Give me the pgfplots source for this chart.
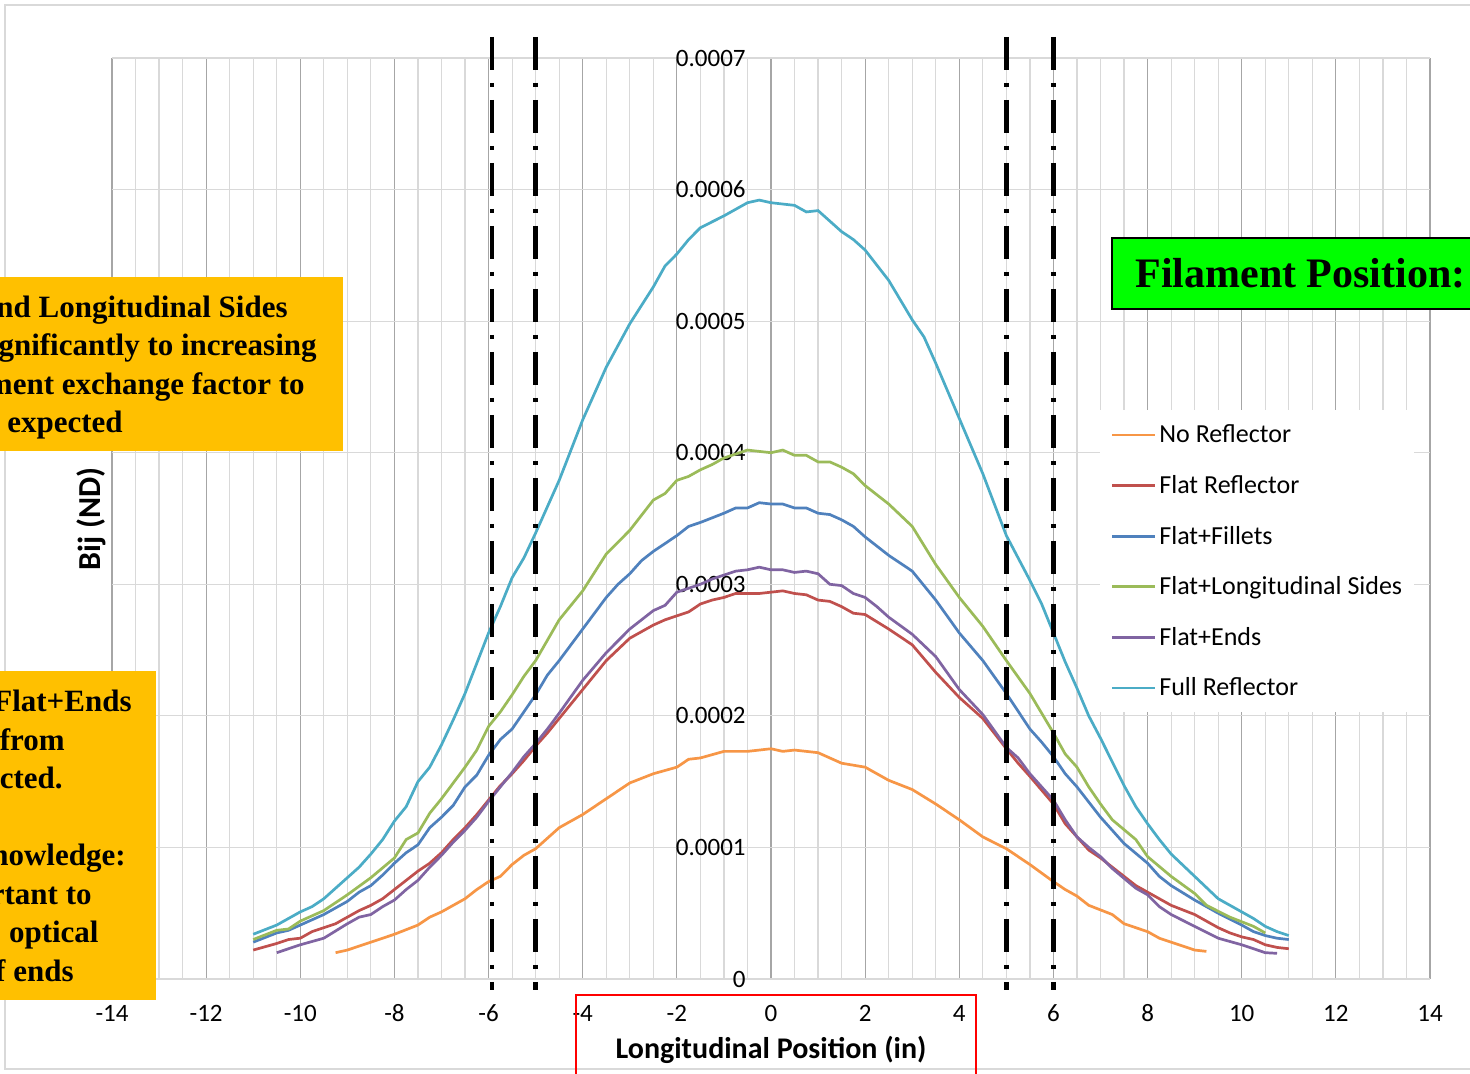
\documentclass[border=0pt]{standalone}
\usepackage{pgfplots}
\pgfplotsset{compat=1.18}
\usepackage{fontspec}
\setmainfont{Carlito}
\newfontfamily\tnr{Liberation Serif}
\definecolor{cNo}{HTML}{F79646}
\definecolor{cFlat}{HTML}{C0504D}
\definecolor{cFil}{HTML}{4F81BD}
\definecolor{cLong}{HTML}{9BBB59}
\definecolor{cEnds}{HTML}{8064A2}
\definecolor{cFull}{HTML}{4BACC6}
\definecolor{gmaj}{HTML}{A6A6A6}
\definecolor{gmin}{HTML}{D9D9D9}
\definecolor{boxorange}{HTML}{FFC000}
\definecolor{boxgreen}{HTML}{00FF00}
\begin{document}
\begin{tikzpicture}
\useasboundingbox (0,0) rectangle (735pt,537pt);
\clip (0,0) rectangle (735pt,537pt);
\fill[white] (0,0) rectangle (735pt,537pt);
\begin{scope}[x=0.5pt,y=-0.5pt,shift={(0pt,537pt)}]
\draw[gmin, line width=1pt] (5,5) rectangle (1480,1069);
\end{scope}
\begin{axis}[
  at={(56pt,47.5pt)}, anchor=south west,
  scale only axis, width=659pt, height=460.5pt,
  xmin=-14, xmax=14, ymin=0, ymax=0.0007,
  clip=false,
  scaled y ticks=false, scaled x ticks=false,
  axis line style={draw=none},
  tick style={draw=none},
  xtick={-14,-12,-10,-8,-6,-4,-2,0,2,4,6,8,10,12,14},
  xticklabels={-14,-12,-10,-8,-6,-4,-2,0,2,4,6,8,10,12,14},
  minor x tick num=3,
  ytick={0,0.0001,0.0002,0.0003,0.0004,0.0005,0.0006,0.0007},
  yticklabels={0,0.0001,0.0002,0.0003,0.0004,0.0005,0.0006,0.0007},
  xmajorgrids, xminorgrids, ymajorgrids,
  major x grid style={gmaj, line width=0.6pt},
  minor x grid style={gmin, line width=0.6pt},
  major y grid style={gmin, line width=0.6pt},
  /pgf/number format/assume math mode=true,
  tick label style={font=\fontsize{12.5}{15}\selectfont, black},
  xticklabel style={anchor=base, yshift=-21.5pt},
  yticklabel style={inner xsep=0pt, xshift=317pt},
  xlabel={Longitudinal Position (in)},
  xlabel style={font=\bfseries\fontsize{15}{18}\selectfont, at={(axis description cs:0.5,-0.0858)}, anchor=base},
  ylabel={Bij (ND)},
  ylabel style={font=\bfseries\fontsize{16}{19}\selectfont, at={(axis description cs:-0.0159,0.4995)}, anchor=center},
  legend cell align=left,
  legend image code/.code={\fill[#1, draw=none] (0pt,-0.7pt) rectangle (21.5pt,0.7pt);},
  legend style={at={(0.7496,0.6178)}, anchor=north west, draw=none, fill=white,
    inner xsep=6pt, inner ysep=6.25pt, row sep=13.3pt,
    font=\fontsize{13}{15.6}\selectfont,
    nodes={inner xsep=0pt, inner ysep=0pt, text height=10pt, text depth=2pt},
    /tikz/every odd column/.append style={column sep=2pt}},
]
\addplot[cNo, line width=1.35pt] coordinates {
(-9.25,0.20e-4) (-9,0.22e-4) (-8.5,0.28e-4) (-8,0.34e-4) (-7.5,0.41e-4) (-7.25,0.47e-4) (-7,0.51e-4) (-6.75,0.56e-4) (-6.5,0.61e-4) (-6.25,0.68e-4) (-6,0.74e-4) (-5.75,0.78e-4) (-5.5,0.87e-4) (-5.25,0.94e-4) (-5,0.99e-4) (-4.75,1.07e-4) (-4.5,1.15e-4) (-4,1.25e-4) (-3.5,1.37e-4) (-3,1.49e-4) (-2.5,1.56e-4) (-2,1.61e-4) (-1.75,1.67e-4) (-1.5,1.68e-4) (-1,1.73e-4) (-0.5,1.73e-4) (0,1.75e-4) (0.25,1.73e-4) (0.5,1.74e-4) (1,1.72e-4) (1.5,1.64e-4) (2,1.61e-4) (2.5,1.51e-4) (3,1.44e-4) (3.5,1.33e-4) (4,1.21e-4) (4.5,1.08e-4) (5,0.99e-4) (5.5,0.87e-4) (6,0.74e-4) (6.25,0.68e-4) (6.5,0.63e-4) (6.75,0.56e-4) (7.25,0.49e-4) (7.5,0.42e-4) (8,0.36e-4) (8.25,0.31e-4) (8.5,0.28e-4) (9,0.22e-4) (9.25,0.21e-4)};
\addlegendentry{No Reflector}
\addplot[cFlat, line width=1.35pt] coordinates {
(-11,0.22e-4) (-10.5,0.27e-4) (-10.25,0.30e-4) (-10,0.31e-4) (-9.75,0.36e-4) (-9.5,0.39e-4) (-9.25,0.42e-4) (-9,0.47e-4) (-8.75,0.52e-4) (-8.5,0.56e-4) (-8.25,0.61e-4) (-8,0.68e-4) (-7.75,0.75e-4) (-7.5,0.82e-4) (-7.25,0.88e-4) (-7,0.96e-4) (-6.75,1.06e-4) (-6.5,1.15e-4) (-6.25,1.25e-4) (-6,1.36e-4) (-5.75,1.47e-4) (-5.5,1.56e-4) (-5.25,1.66e-4) (-5,1.77e-4) (-4.75,1.87e-4) (-4.5,1.98e-4) (-4,2.20e-4) (-3.5,2.42e-4) (-3,2.59e-4) (-2.5,2.69e-4) (-2.25,2.73e-4) (-2,2.76e-4) (-1.75,2.79e-4) (-1.5,2.85e-4) (-1.25,2.88e-4) (-1,2.90e-4) (-0.75,2.93e-4) (-0.5,2.93e-4) (-0.25,2.93e-4) (0,2.94e-4) (0.25,2.95e-4) (0.5,2.93e-4) (0.75,2.92e-4) (1,2.88e-4) (1.25,2.87e-4) (1.5,2.83e-4) (1.75,2.78e-4) (2,2.77e-4) (2.5,2.66e-4) (3,2.54e-4) (3.5,2.33e-4) (4,2.14e-4) (4.5,1.98e-4) (5,1.75e-4) (5.25,1.64e-4) (5.5,1.54e-4) (6,1.33e-4) (6.25,1.18e-4) (6.5,1.08e-4) (6.75,0.98e-4) (7,0.92e-4) (7.25,0.85e-4) (7.75,0.71e-4) (8,0.66e-4) (8.5,0.56e-4) (9,0.49e-4) (9.5,0.39e-4) (9.75,0.35e-4) (10,0.32e-4) (10.25,0.30e-4) (10.5,0.26e-4) (10.75,0.24e-4) (11,0.23e-4)};
\addlegendentry{Flat Reflector}
\addplot[cFil, line width=1.35pt] coordinates {
(-11,0.28e-4) (-10.5,0.35e-4) (-10.25,0.37e-4) (-10,0.41e-4) (-9.5,0.49e-4) (-9,0.59e-4) (-8.75,0.66e-4) (-8.5,0.71e-4) (-8.25,0.79e-4) (-8,0.88e-4) (-7.75,0.96e-4) (-7.5,1.02e-4) (-7.25,1.15e-4) (-7,1.23e-4) (-6.75,1.32e-4) (-6.5,1.46e-4) (-6.25,1.55e-4) (-6,1.70e-4) (-5.75,1.82e-4) (-5.5,1.90e-4) (-5.25,2.03e-4) (-5,2.16e-4) (-4.75,2.31e-4) (-4.5,2.42e-4) (-4,2.66e-4) (-3.5,2.90e-4) (-3.25,3.00e-4) (-3,3.08e-4) (-2.75,3.18e-4) (-2.5,3.25e-4) (-2,3.37e-4) (-1.75,3.44e-4) (-1.5,3.47e-4) (-1,3.54e-4) (-0.75,3.58e-4) (-0.5,3.58e-4) (-0.25,3.62e-4) (0,3.61e-4) (0.25,3.61e-4) (0.5,3.58e-4) (0.75,3.58e-4) (1,3.54e-4) (1.25,3.53e-4) (1.5,3.49e-4) (1.75,3.44e-4) (2,3.36e-4) (2.5,3.22e-4) (3,3.10e-4) (3.5,2.88e-4) (4,2.63e-4) (4.5,2.42e-4) (5,2.17e-4) (5.5,1.90e-4) (5.75,1.80e-4) (6,1.69e-4) (6.25,1.56e-4) (6.5,1.46e-4) (7,1.23e-4) (7.5,1.03e-4) (8,0.88e-4) (8.25,0.78e-4) (8.5,0.71e-4) (9,0.60e-4) (9.5,0.50e-4) (10,0.41e-4) (10.25,0.36e-4) (10.5,0.33e-4) (10.75,0.31e-4) (11,0.30e-4)};
\addlegendentry{Flat+Fillets}
\addplot[cLong, line width=1.35pt] coordinates {
(-11,0.30e-4) (-10.5,0.37e-4) (-10.25,0.38e-4) (-10,0.44e-4) (-9.5,0.52e-4) (-9,0.64e-4) (-8.5,0.77e-4) (-8,0.92e-4) (-7.75,1.06e-4) (-7.5,1.11e-4) (-7.25,1.26e-4) (-7,1.37e-4) (-6.75,1.49e-4) (-6.5,1.61e-4) (-6.25,1.74e-4) (-6,1.92e-4) (-5.75,2.03e-4) (-5.5,2.16e-4) (-5.25,2.30e-4) (-5,2.42e-4) (-4.5,2.73e-4) (-4,2.95e-4) (-3.5,3.23e-4) (-3,3.41e-4) (-2.5,3.64e-4) (-2.25,3.69e-4) (-2,3.79e-4) (-1.75,3.82e-4) (-1.5,3.87e-4) (-1.25,3.91e-4) (-1,3.96e-4) (-0.5,4.02e-4) (-0.25,4.01e-4) (0,4.00e-4) (0.25,4.02e-4) (0.5,3.98e-4) (0.75,3.98e-4) (1,3.93e-4) (1.25,3.93e-4) (1.5,3.89e-4) (1.75,3.84e-4) (2,3.75e-4) (2.5,3.61e-4) (3,3.44e-4) (3.5,3.15e-4) (4,2.90e-4) (4.5,2.68e-4) (5,2.42e-4) (5.5,2.17e-4) (6,1.87e-4) (6.25,1.71e-4) (6.5,1.61e-4) (6.75,1.46e-4) (7,1.33e-4) (7.25,1.21e-4) (7.75,1.06e-4) (8,0.93e-4) (8.5,0.78e-4) (9,0.65e-4) (9.25,0.56e-4) (9.75,0.47e-4) (10.25,0.40e-4) (10.5,0.35e-4)};
\addlegendentry{Flat+Longitudinal Sides}
\addplot[cEnds, line width=1.35pt] coordinates {
(-10.5,0.20e-4) (-10,0.26e-4) (-9.5,0.31e-4) (-9,0.42e-4) (-8.75,0.47e-4) (-8.5,0.49e-4) (-8.25,0.55e-4) (-8,0.60e-4) (-7.75,0.68e-4) (-7.5,0.75e-4) (-7.25,0.85e-4) (-7,0.94e-4) (-6.75,1.04e-4) (-6.5,1.13e-4) (-6.25,1.23e-4) (-6,1.35e-4) (-5.75,1.46e-4) (-5.5,1.57e-4) (-5.25,1.69e-4) (-5,1.79e-4) (-4.75,1.90e-4) (-4.5,2.02e-4) (-4,2.27e-4) (-3.5,2.48e-4) (-3,2.66e-4) (-2.5,2.80e-4) (-2.25,2.84e-4) (-2,2.94e-4) (-1.75,2.97e-4) (-1.5,3.00e-4) (-1.25,3.04e-4) (-1,3.07e-4) (-0.75,3.10e-4) (-0.5,3.11e-4) (-0.25,3.13e-4) (0,3.11e-4) (0.25,3.11e-4) (0.5,3.09e-4) (0.75,3.10e-4) (1,3.08e-4) (1.25,3.00e-4) (1.5,2.99e-4) (1.75,2.93e-4) (2,2.90e-4) (2.25,2.83e-4) (2.5,2.75e-4) (3,2.62e-4) (3.5,2.45e-4) (4,2.20e-4) (4.5,2.01e-4) (5,1.76e-4) (5.25,1.68e-4) (5.5,1.56e-4) (6,1.36e-4) (6.25,1.21e-4) (6.5,1.08e-4) (6.75,1.00e-4) (7,0.93e-4) (7.25,0.84e-4) (7.75,0.69e-4) (8,0.64e-4) (8.25,0.55e-4) (8.5,0.49e-4) (9,0.40e-4) (9.5,0.31e-4) (10,0.26e-4) (10.25,0.23e-4) (10.5,0.20e-4) (10.75,0.195e-4)};
\addlegendentry{Flat+Ends}
\addplot[cFull, line width=1.35pt] coordinates {
(-11,0.34e-4) (-10.5,0.41e-4) (-10,0.51e-4) (-9.75,0.55e-4) (-9.5,0.61e-4) (-9,0.77e-4) (-8.75,0.85e-4) (-8.5,0.95e-4) (-8.25,1.06e-4) (-8,1.20e-4) (-7.75,1.31e-4) (-7.5,1.50e-4) (-7.25,1.61e-4) (-7,1.78e-4) (-6.75,1.97e-4) (-6.5,2.17e-4) (-6.25,2.40e-4) (-6,2.63e-4) (-5.75,2.83e-4) (-5.5,3.05e-4) (-5.25,3.20e-4) (-5,3.39e-4) (-4.5,3.79e-4) (-4,4.25e-4) (-3.5,4.65e-4) (-3,4.98e-4) (-2.5,5.26e-4) (-2.25,5.42e-4) (-2,5.51e-4) (-1.75,5.62e-4) (-1.5,5.71e-4) (-1,5.80e-4) (-0.5,5.90e-4) (-0.25,5.92e-4) (0,5.90e-4) (0.5,5.88e-4) (0.75,5.83e-4) (1,5.84e-4) (1.5,5.68e-4) (1.75,5.62e-4) (2,5.54e-4) (2.5,5.31e-4) (3,5.01e-4) (3.25,4.88e-4) (3.5,4.68e-4) (4,4.26e-4) (4.5,3.84e-4) (5,3.37e-4) (5.5,3.03e-4) (5.75,2.85e-4) (6,2.63e-4) (6.25,2.41e-4) (6.5,2.21e-4) (6.75,2.00e-4) (7,1.83e-4) (7.25,1.65e-4) (7.5,1.47e-4) (7.75,1.31e-4) (8,1.18e-4) (8.25,1.06e-4) (8.5,0.95e-4) (9,0.78e-4) (9.5,0.61e-4) (10,0.51e-4) (10.25,0.46e-4) (10.5,0.40e-4) (10.75,0.36e-4) (11,0.33e-4)};
\addlegendentry{Full Reflector}
\addplot[black, line width=2.3pt, dash pattern=on 16.5pt off 6.5pt on 2pt off 6.5pt, forget plot] coordinates {(-5.93,7.16e-4) (-5.93,-0.084e-4)};
\addplot[black, line width=2.3pt, dash pattern=on 16.5pt off 6.5pt on 2pt off 6.5pt, forget plot] coordinates {(-5,7.16e-4) (-5,-0.084e-4)};
\addplot[black, line width=2.3pt, dash pattern=on 16.5pt off 6.5pt on 2pt off 6.5pt, forget plot] coordinates {(5,7.16e-4) (5,-0.084e-4)};
\addplot[black, line width=2.3pt, dash pattern=on 16.5pt off 6.5pt on 2pt off 6.5pt, forget plot] coordinates {(6,7.16e-4) (6,-0.084e-4)};
\end{axis}
\begin{scope}[x=0.5pt,y=-0.5pt,shift={(0pt,537pt)}]
\fill[boxorange] (-10,277) rectangle (343,451);
\begin{scope}[every node/.style={anchor=base east, inner sep=0pt, font=\tnr\bfseries\fontsize{15.5}{18}\selectfont}]
\node at (288,318) {and Longitudinal Sides};
\node at (317,356) {significantly to increasing};
\node at (305,394.5) {filament exchange factor to};
\node at (123,433) {as expected};
\end{scope}
\fill[boxorange] (-10,671) rectangle (156,1000);
\begin{scope}[every node/.style={anchor=base east, inner sep=0pt, font=\tnr\bfseries\fontsize{15.5}{18}\selectfont}]
\node at (132,712) {the Flat+Ends};
\node at (65,750.5) {differ from};
\node at (63,789) {expected.};
\node at (126,866) {knowledge:};
\node at (92,904.5) {important to};
\node at (99,943) {optical};
\node at (74,981.5) {of ends};
\end{scope}
\filldraw[fill=boxgreen, draw=black, line width=1pt] (1112,238) rectangle (1530,309);
\node[anchor=base west, inner sep=0pt, font=\tnr\bfseries\fontsize{21}{24}\selectfont] at (1135,288) {Filament Position:};
\draw[red, line width=0.8pt] (576,995) rectangle (976,1100);
\end{scope}
\end{tikzpicture}
\end{document}
